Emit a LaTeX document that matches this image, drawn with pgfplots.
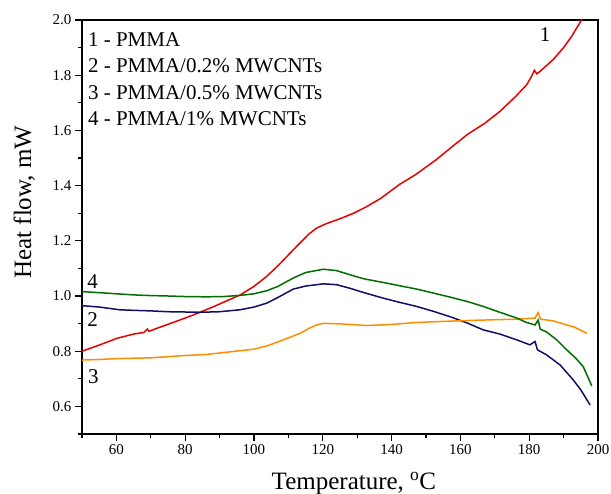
\documentclass[border=0pt]{standalone}
\usepackage{fontspec}
\setmainfont{Liberation Serif}
\usepackage{pgfplots}
\pgfplotsset{compat=1.18}
\usetikzlibrary{calc}
\definecolor{c1}{RGB}{230,0,0}
\definecolor{c2}{RGB}{15,15,100}
\definecolor{c3}{RGB}{255,140,0}
\definecolor{c4}{RGB}{0,110,0}

\begin{document}
\begin{tikzpicture}
\begin{axis}[
  scale only axis, width=516pt, height=414pt,
  xmin=50, xmax=200, ymin=0.5, ymax=2.0,
  xtick={60,80,...,200}, minor xtick={50,70,...,190},
  ytick={0.6,0.8,...,2.01}, minor ytick={0.5,0.7,...,1.91},
  xtick pos=lower, ytick pos=left,
  tick align=outside,
  major tick length=7pt, minor tick length=4pt,
  axis line style={line width=1.4pt},
  every tick/.style={black, line width=1.2pt},
  tick label style={font=\fontsize{15}{18}\selectfont},
  /pgf/number format/assume math mode=true,
  yticklabel style={/pgf/number format/.cd, fixed, fixed zerofill, precision=1},
  xticklabel style={/pgf/number format/.cd, fixed, precision=0},
  xlabel={Temperature, \textsuperscript{o}C},
  ylabel={Heat flow, mW},
  label style={font=\fontsize{25}{30}\selectfont},
  xlabel style={at={(axis description cs:0.527,-0.135)}, anchor=base},
  ylabel style={at={(axis description cs:-0.112,0.56)}, anchor=center},
  every axis plot/.append style={line width=1.5pt, no markers},
  clip=true,
]
\coordinate (bl) at (rel axis cs:0,0);
\coordinate (tr) at (rel axis cs:1,1);

% 1 - PMMA
\addplot[c1] coordinates {
(50,0.800) (55,0.822) (60,0.846) (65,0.862) (68,0.868) (69,0.880) (69.5,0.872)
(72,0.884) (76,0.902) (80,0.920) (84.3,0.941) (88,0.960) (92,0.982) (96,1.004)
(100,1.035) (103.7,1.071) (107,1.110) (111.4,1.167) (114,1.200) (116,1.225)
(118.2,1.246) (121,1.262) (125,1.280) (129,1.300) (132.8,1.324) (137,1.355)
(142.4,1.405) (147,1.440) (153,1.494) (158,1.545) (162,1.585) (167,1.625)
(171.5,1.669) (176,1.722) (179.3,1.766) (180.7,1.796) (181.5,1.818) (182.2,1.805)
(183,1.812) (187,1.857) (190,1.900) (192.3,1.940) (195.3,2.002)};

% 2 - PMMA/0.2% MWCNTs
\addplot[c2] coordinates {
(50,0.965) (55,0.960) (58,0.955) (61,0.950) (65,0.948) (70,0.946) (75,0.943)
(80,0.942) (84.3,0.941) (90,0.943) (95.9,0.950) (100,0.960) (103.7,0.974)
(107,0.995) (111.4,1.025) (115,1.036) (120.2,1.044) (124,1.041) (127.9,1.028)
(132,1.012) (137.6,0.992) (142,0.978) (147.3,0.962) (152,0.945) (157,0.925)
(162,0.902) (166.7,0.877) (171.5,0.862) (176.4,0.841) (180.2,0.823) (181.7,0.835)
(182.4,0.805) (185,0.787) (189,0.750) (192.8,0.696) (195,0.660) (197.7,0.605)};

% 3 - PMMA/0.5% MWCNTs
\addplot[c3] coordinates {
(50,0.768) (55,0.770) (60,0.773) (70,0.776) (79.5,0.784) (86,0.788) (94,0.799)
(99.8,0.807) (104,0.820) (108.5,0.841) (113.4,0.865) (116,0.883) (118.2,0.895)
(120.2,0.901) (125,0.899) (132.8,0.893) (140,0.897) (147.3,0.904) (155,0.908)
(161.8,0.911) (170,0.914) (176.4,0.916) (181.7,0.920) (182.6,0.940) (183.3,0.916)
(187,0.910) (190.9,0.895) (193,0.888) (196.7,0.865)};

% 4 - PMMA/1% MWCNTs
\addplot[c4] coordinates {
(50,1.016) (55,1.012) (60,1.008) (65,1.004) (68.8,1.002) (75,1.000) (80,0.998)
(86.2,0.997) (91,0.998) (95.9,1.002) (100,1.008) (103.7,1.019) (107,1.035)
(111.4,1.065) (115,1.085) (120.2,1.097) (124,1.092) (127.9,1.077) (132,1.062)
(137.6,1.049) (142,1.038) (147.3,1.025) (152,1.011) (157,0.996) (162,0.980)
(166.7,0.962) (171,0.943) (176.4,0.920) (179,0.905) (181.7,0.895) (182.6,0.913)
(183.2,0.880) (185,0.870) (188,0.841) (190.9,0.805) (193.5,0.775) (195.7,0.744)
(198.2,0.674)};

\begin{scope}[every node/.style={font=\fontsize{21}{25}\selectfont, inner sep=0pt}]
\node[anchor=base west] at (axis cs:51.7,1.905) {1 - PMMA};
\node[anchor=base west] at (axis cs:51.7,1.808) {2 - PMMA/0.2\% MWCNTs};
\node[anchor=base west] at (axis cs:51.7,1.711) {3 - PMMA/0.5\% MWCNTs};
\node[anchor=base west] at (axis cs:51.7,1.618) {4 - PMMA/1\% MWCNTs};
\node at (axis cs:184.6,1.947) {1};
\node at (axis cs:53.1,1.052) {4};
\node at (axis cs:53.1,0.913) {2};
\node at (axis cs:53.3,0.708) {3};
\end{scope}
\end{axis}
\pgfresetboundingbox
\path ($(bl)+(-82pt,-60pt)$) rectangle ($(tr)+(13pt,20pt)$);
\end{tikzpicture}
\end{document}
